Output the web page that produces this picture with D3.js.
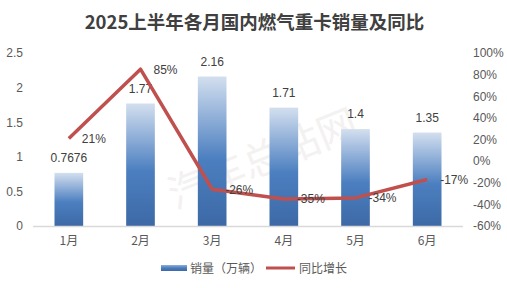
<!DOCTYPE html>
<meta charset="utf-8">
<html>
  <head>
    <style>
      body { margin: 0; background: #fff; font-family: "Noto Sans CJK SC", "Noto Sans", sans-serif; }
    </style>
  </head>
  <body>
    <div id="chart"></div>
  </body>
<script src="https://d3js.org/d3.v7.min.js"></script>
<script>
// data
var months = ["1月", "2月", "3月", "4月", "5月", "6月"]
var sales = [0.7676, 1.77, 2.16, 1.71, 1.4, 1.35]          // 万辆
var salesLabels = ["0.7676", "1.77", "2.16", "1.71", "1.4", "1.35"]
var growth = [21, 85, -26, -35, -34, -17]                 // %
var leftTicks = [0, 0.5, 1, 1.5, 2, 2.5]
var rightTicks = [-60, -40, -20, 0, 20, 40, 60, 80, 100]

var W = 507, H = 288
var plot = {left: 33, right: 463, top: 53, bottom: 226}

var svg = d3.select("#chart").append("svg")
  .attr("width", W).attr("height", H)

var defs = svg.append("defs")
var grad = defs.append("linearGradient").attr("id", "barGrad")
  .attr("x1", 0).attr("y1", 0).attr("x2", 0).attr("y2", 1)
grad.append("stop").attr("offset", "0%").attr("stop-color", "#d3dfef")
grad.append("stop").attr("offset", "55%").attr("stop-color", "#4c7fc0")
grad.append("stop").attr("offset", "100%").attr("stop-color", "#3d69a6")

var legGrad = defs.append("linearGradient").attr("id", "legGrad")
  .attr("x1", 0).attr("y1", 0).attr("x2", 0).attr("y2", 1)
legGrad.append("stop").attr("offset", "0%").attr("stop-color", "#8fb0da")
legGrad.append("stop").attr("offset", "50%").attr("stop-color", "#4a7dbd")
legGrad.append("stop").attr("offset", "100%").attr("stop-color", "#3d69a6")

// title
svg.append("text")
  .attr("x", W / 2 + 1).attr("y", 29)
  .attr("text-anchor", "middle")
  .style("font-size", "18.5px").style("font-weight", "bold")
  .style("fill", "#404040")
  .text("2025上半年各月国内燃气重卡销量及同比")

// scales
var x = d3.scaleBand().domain(months).range([plot.left, plot.right]).paddingInner(0.6).paddingOuter(0.3)
var y = d3.scaleLinear().domain([0, 2.5]).range([plot.bottom, plot.top])
var y2 = d3.scaleLinear().domain([-60, 100]).range([plot.bottom, plot.top])

// watermark
svg.append("text")
  .attr("transform", "translate(268,172) rotate(-22)")
  .attr("text-anchor", "middle")
  .style("font-size", "40px")
  .style("fill", "#f4f1f1")
  .text("汽车总站网")

// axes
var gl = svg.append("g").attr("transform", "translate(" + plot.left + ",0)")
  .call(d3.axisLeft(y).tickValues(leftTicks).tickSize(0).tickPadding(10).tickFormat(d3.format("")))
gl.select(".domain").remove()
var gr = svg.append("g").attr("transform", "translate(" + plot.right + ",0)")
  .call(d3.axisRight(y2).tickValues(rightTicks).tickSize(0).tickPadding(10).tickFormat(function (d) { return d + "%" }))
gr.select(".domain").remove()
svg.selectAll(".tick text")
  .style("font-size", "12px").style("fill", "#595959")
  .style("font-family", "'Liberation Sans', 'Noto Sans CJK SC', sans-serif")

// bars
svg.selectAll(".bar").data(sales).enter().append("rect")
  .attr("class", "bar")
  .attr("x", function (d, i) { return x(months[i]) })
  .attr("width", x.bandwidth())
  .attr("y", function (d) { return y(d) })
  .attr("height", function (d) { return plot.bottom - y(d) })
  .style("fill", "url(#barGrad)")

// baseline
svg.append("line")
  .attr("x1", plot.left).attr("x2", plot.right).attr("y1", plot.bottom + 0.5).attr("y2", plot.bottom + 0.5)
  .style("stroke", "#d9d9d9").style("stroke-width", 1.5)

// x labels
var gx = svg.append("g").attr("transform", "translate(0," + plot.bottom + ")")
  .call(d3.axisBottom(x).tickSize(0).tickPadding(10))
gx.select(".domain").remove()
gx.selectAll("text").style("font-size", "12px").style("fill", "#595959")
  .style("font-family", "'Noto Sans CJK SC', sans-serif")

// bar labels
svg.selectAll(".blab").data(sales).enter().append("text")
  .attr("x", function (d, i) { return x(months[i]) + x.bandwidth() / 2 })
  .attr("y", function (d) { return y(d) - 11 })
  .attr("text-anchor", "middle")
  .style("font-size", "12px").style("fill", "#404040")
  .style("font-family", "'Liberation Sans', sans-serif")
  .text(function (d, i) { return salesLabels[i] })

// line
var line = d3.line()
  .x(function (d, i) { return x(months[i]) + x.bandwidth() / 2 })
  .y(function (d) { return y2(d) })
svg.append("path").datum(growth)
  .attr("d", line)
  .style("fill", "none").style("stroke", "#c0504d").style("stroke-width", 3.5)
  .style("stroke-linejoin", "round")

svg.selectAll(".llab").data(growth).enter().append("text")
  .attr("x", function (d, i) { return x(months[i]) + x.bandwidth() / 2 + 13 })
  .attr("y", function (d) { return y2(d) + 4.5 })
  .style("font-size", "12px").style("fill", "#404040")
  .style("font-family", "'Liberation Sans', sans-serif")
  .text(function (d) { return d + "%" })

// legend
var lg = svg.append("g").attr("transform", "translate(0,268)")
lg.append("rect").attr("x", 161).attr("y", -3).attr("width", 26).attr("height", 6)
  .style("fill", "url(#legGrad)")
lg.append("text").attr("x", 190).attr("y", 4.5)
  .style("font-size", "12px").style("fill", "#595959")
  .text("销量（万辆）")
lg.append("line").attr("x1", 266).attr("x2", 295).attr("y1", 0).attr("y2", 0)
  .style("stroke", "#c0504d").style("stroke-width", 3)
lg.append("text").attr("x", 299).attr("y", 4.5)
  .style("font-size", "12px").style("fill", "#595959")
  .text("同比增长")
</script>
</html>
